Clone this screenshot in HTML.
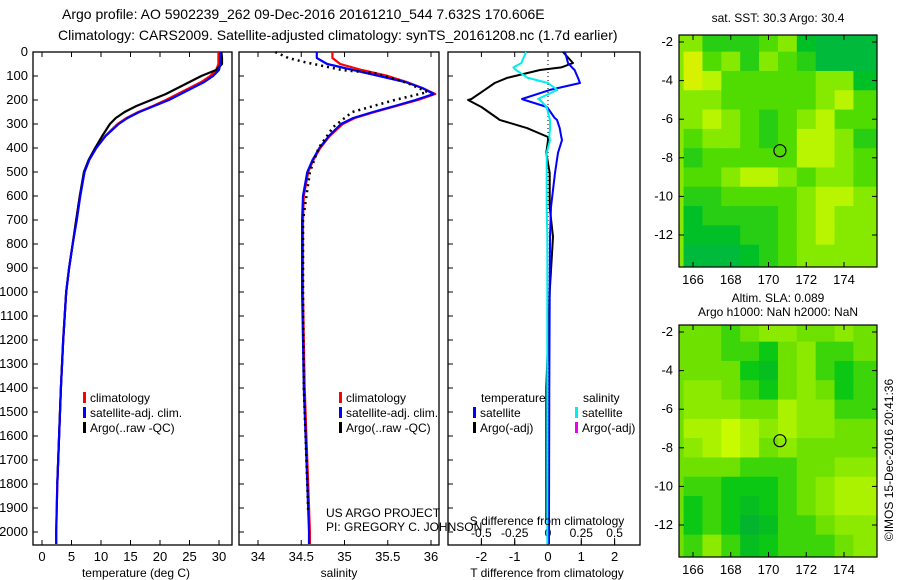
<!DOCTYPE html>
<html><head><meta charset="utf-8"><style>
body{margin:0;background:#fff;}
svg{display:block;font-family:"Liberation Sans",sans-serif;}
</style></head><body>
<svg id="c" width="900" height="580" viewBox="0 0 900 580">
<text x="62" y="19" font-size="14">Argo profile: AO 5902239_262 09-Dec-2016 20161210_544 7.632S 170.606E</text>
<text x="58" y="40" font-size="14">Climatology: CARS2009. Satellite-adjusted climatology: synTS_20161208.nc (1.7d earlier)</text>
<text x="778" y="22" font-size="12" text-anchor="middle">sat. SST: 30.3 Argo: 30.4</text>
<text x="778" y="302" font-size="12" text-anchor="middle">Altim. SLA: 0.089</text>
<text x="778" y="316" font-size="12" text-anchor="middle">Argo h1000: NaN h2000: NaN</text>
<text transform="translate(893,460) rotate(-90)" font-size="12" text-anchor="middle">©IMOS 15-Dec-2016 20:41:36</text>
<text x="326" y="517" font-size="12">US ARGO PROJECT</text>
<text x="326" y="531" font-size="12">PI: GREGORY C. JOHNSON</text>
</svg>
<script>
const depths=[0,25,50,75,100,125,150,175,200,225,250,275,300,350,400,450,500,600,700,800,900,1000,1200,1400,1600,1800,2000,2050];
const tempClim=[29.9,29.9,29.9,29.5,28.5,27,25,23,21,18.8,16.3,14.3,12.8,10.7,9.2,8,7.2,6.4,5.8,5.2,4.6,4.1,3.6,3.2,2.9,2.6,2.4,2.4];
const tempSat=[30.2,30.2,30.2,30,29,27.5,25.5,23.5,21.5,19,16.5,14.5,13,10.8,9.2,8,7.2,6.5,5.9,5.2,4.6,4.1,3.6,3.2,2.9,2.6,2.4,2.4];
const tempArgo=[30.4,30.5,30.5,29.5,27,25,23,21,18.5,16,14,12.5,11.5,10.2,9,7.9,7.1,6.4,5.8,5.2,4.6,4.1,3.6,3.2,2.9,2.6,2.4,2.4];
const salClim=[34.86,34.86,34.95,35.2,35.5,35.72,35.9,36.05,35.85,35.6,35.35,35.12,34.98,34.83,34.72,34.64,34.58,34.53,34.52,34.52,34.52,34.52,34.53,34.54,34.56,34.58,34.6,34.6];
const salSat=[34.68,34.68,34.8,35.1,35.4,35.7,35.9,36.03,35.82,35.58,35.33,35.1,34.96,34.82,34.71,34.63,34.57,34.52,34.51,34.51,34.51,34.51,34.52,34.53,34.55,34.57,34.59,34.59];
const salArgoDepth=[0,25,42,75,88,129,167,200,250,312,400,500,700,1000,1400,1800,1920];
const salArgo=[34.2,34.35,34.54,34.97,35.35,35.73,35.96,35.58,35.09,34.87,34.7,34.6,34.52,34.52,34.53,34.57,34.58];
const diffDepth=[0,46,64,75,108,129,158,196,200,229,275,283,317,354,367,420,504,646,770,1000,1400,1950,2050];
const dTArgo=[0.45,0.75,0.4,-0.24,-1.23,-1.6,-1.9,-2.3,-2.4,-2.0,-1.53,-1.45,-0.63,0,0,-0.05,0.05,0.05,0.15,0.05,-0.05,-0.05,-0.05];
const dTSat=[0.51,0.6,0.72,0.8,0.9,0.96,0.06,-0.78,-0.7,-0.03,0.2,0.27,0.35,0.4,0.42,0.3,0.21,0.09,0.06,0.05,0.04,0.03,0.03];
const dSSat=[-0.165,-0.2,-0.26,-0.24,-0.15,0,0.07,-0.075,-0.06,-0.01,0.01,0.015,0.015,0.01,0.015,-0.01,-0.01,-0.01,-0.005,-0.005,-0.005,-0.005,-0.005];
const depthTicks=[0,100,200,300,400,500,600,700,800,900,1000,1100,1200,1300,1400,1500,1600,1700,1800,1900,2000];
const tempTicks=[0,5,10,15,20,25,30];
const salTicks=[34,34.5,35,35.5,36];
const salTickLabels=["34","34.5","35","35.5","36"];
const dTTicks=[-2,-1,0,1,2];
const dSTicks=[-0.5,-0.25,0,0.25,0.5];
const dSTickLabels=["-0.5","-0.25","0","0.25","0.5"];
const mapLons=[166,167,168,169,170,171,172,173,174,175];
const mapLats=[-2,-3,-4,-5,-6,-7,-8,-9,-10,-11,-12,-13];
const sstGrid=[
[.6,.4,.4,.4,.5,.6,.3,.2,.2,.2],[.8,.5,.6,.4,.6,.5,.4,.2,.2,.2],[.8,.7,.5,.5,.5,.5,.5,.6,.6,.3],
[.6,.6,.5,.5,.5,.5,.5,.6,.7,.5],[.6,.7,.6,.5,.4,.5,.6,.7,.5,.5],[.5,.6,.6,.5,.4,.5,.7,.7,.6,.4],
[.4,.5,.5,.5,.5,.5,.7,.7,.6,.5],[.5,.5,.6,.7,.7,.6,.5,.6,.6,.5],[.4,.4,.5,.5,.5,.5,.6,.7,.7,.6],
[.3,.4,.4,.4,.4,.5,.6,.7,.6,.6],[.3,.3,.3,.4,.4,.5,.6,.7,.6,.6],[.2,.2,.2,.3,.4,.5,.6,.6,.6,.6]];
const slaGrid=[
[.5,.5,.4,.5,.6,.6,.5,.5,.6,.5],[.5,.5,.4,.4,.3,.5,.6,.4,.4,.5],[.5,.5,.5,.3,.2,.5,.6,.4,.3,.4],
[.6,.6,.5,.4,.3,.5,.6,.5,.3,.4],[.6,.6,.6,.5,.5,.7,.6,.6,.4,.4],[.7,.7,.8,.7,.6,.7,.6,.6,.5,.5],
[.6,.7,.8,.7,.5,.6,.5,.5,.5,.5],[.5,.5,.5,.4,.4,.4,.5,.5,.6,.6],[.4,.4,.3,.3,.3,.4,.5,.6,.7,.7],
[.3,.4,.3,.2,.3,.4,.5,.6,.7,.7],[.3,.4,.3,.1,.2,.4,.4,.5,.6,.6],[.4,.6,.4,.2,.3,.4,.4,.4,.5,.6]];
const argoLon=170.606, argoLat=-7.632;

const svg=document.getElementById('c');
const NS='http://www.w3.org/2000/svg';
function mk(tag,attrs,parent){const e=document.createElementNS(NS,tag);for(const k in attrs)e.setAttribute(k,attrs[k]);(parent||svg).appendChild(e);return e;}
const y=d=>52+0.24*d;
const xT=v=>42+v*5.9;
const xS=v=>258+(v-34)*86.5;
const xDT=v=>548+v*33.3;
const xDS=v=>548+v*133.2;

function frame(l,r,name){const e=mk('rect',{x:l,y:52,width:r-l,height:493,fill:'none',stroke:'#000','stroke-width':1.3});


for(const d of depthTicks){mk('line',{x1:l,x2:l+5,y1:y(d),y2:y(d),stroke:'#000'});}}
function xticks(vals,fx,labels,ly,name){vals.forEach((v,i)=>{const X=fx(v);mk('line',{x1:X,x2:X,y1:545,y2:540,stroke:'#000'});mk('line',{x1:X,x2:X,y1:52,y2:57,stroke:'#000'});
const t=mk('text',{x:X,y:ly,'font-size':13,'text-anchor':'middle'});t.textContent=labels[i];

});}
function line(xs,ds,fx,color,w,name,dash){const p=xs.map((v,i)=>fx(v).toFixed(1)+','+y(ds[i]).toFixed(1)).join(' ');
const e=mk('polyline',{points:p,fill:'none',stroke:color,'stroke-width':w,'stroke-linejoin':'round'});if(dash)e.setAttribute('stroke-dasharray',dash);

}
function txt(x,yy,s,name,anchor,size){const t=mk('text',{x:x,y:yy,'font-size':size||12,'text-anchor':anchor||'start'});t.textContent=s;

return t;}
function legend(x,yy,color,s,name){mk('rect',{x:x,y:yy-10,width:3,height:11,fill:color});txt(x+7,yy,s,name);}

// panel 1
frame(33,232,'temperature-panel');
depthTicks.forEach(d=>txt(28,y(d)+4,String(d),'depth-tick-label','end',13));
xticks(tempTicks,xT,tempTicks.map(String),561,'temperature-tick-label');
line(tempClim,depths,xT,'#f00',2.2,'temperature-climatology-line');
line(tempArgo.slice(0,26),depths.slice(0,26),xT,'#000',2.2,'temperature-argo-line');
line(tempSat,depths,xT,'#00f',2.2,'temperature-satellite-line');
txt(136,577,'temperature (deg C)','temperature-axis-title','middle');
legend(83,402,'#f00','climatology','legend-climatology');
legend(83,417,'#00f','satellite-adj. clim.','legend-satellite');
legend(83,432,'#000','Argo(..raw -QC)','legend-argo');

// panel 2
frame(239,439,'salinity-panel');
xticks(salTicks,xS,salTickLabels,561,'salinity-tick-label');
line(salClim,depths,xS,'#f00',2.2,'salinity-climatology-line');
line(salSat,depths,xS,'#00f',2.2,'salinity-satellite-line');
line(salArgo,salArgoDepth,xS,'#000',2.5,'salinity-argo-line','2,4');
txt(339,577,'salinity','salinity-axis-title','middle');
legend(339,402,'#f00','climatology','legend-climatology-2');
legend(339,417,'#00f','satellite-adj. clim.','legend-satellite-2');
legend(339,432,'#000','Argo(..raw -QC)','legend-argo-2');

// panel 3
frame(448,640,'difference-panel');
xticks(dTTicks,xDT,dTTicks.map(String),561,'t-difference-tick-label');
dSTicks.forEach((v,i)=>{const X=xDS(v);mk('line',{x1:X,x2:X,y1:545,y2:538,stroke:'#000'});txt(X,537,dSTickLabels[i],'s-difference-tick-label','middle');});
mk('line',{x1:xDT(0),x2:xDT(0),y1:52,y2:545,stroke:'#000','stroke-dasharray':'1,3'});
line(dTArgo.slice(0,22),diffDepth.slice(0,22),xDT,'#000',2,'t-difference-argo-line');
line(dTSat,diffDepth,xDT,'#00f',2,'t-difference-satellite-line');
line(dSSat,diffDepth,xDS,'#0ee',2,'s-difference-satellite-line');
txt(547,525,'S difference from climatology','s-difference-axis-title','middle');
txt(547,577,'T difference from climatology','t-difference-axis-title','middle');
txt(481,402,'temperature','legend-temperature-heading');
txt(583,402,'salinity','legend-salinity-heading');
legend(473,417,'#00f','satellite','legend-t-satellite');
legend(473,432,'#000','Argo(-adj)','legend-t-argo');
legend(575,417,'#0ee','satellite','legend-s-satellite');
legend(575,432,'#e0e','Argo(-adj)','legend-s-argo');

// maps
const lonX=l=>693+(l-166)*18.875;
function lerp(a,b,t){return a.map((v,i)=>Math.round(v+(b[i]-v)*t));}
function cmap(v,stops){for(let i=1;i<stops.length;i++){if(v<=stops[i][0]){const t=(v-stops[i-1][0])/(stops[i][0]-stops[i-1][0]);const c=lerp(stops[i-1][1],stops[i][1],t);return `rgb(${c})`;}}return `rgb(${stops[stops.length-1][1]})`;}
const sstStops=[[0,[0,176,96]],[0.3,[0,192,40]],[0.5,[80,220,0]],[0.7,[185,245,0]],[0.85,[230,240,0]],[1,[255,176,0]]];
const slaStops=[[0,[0,170,60]],[0.3,[10,200,20]],[0.5,[110,225,0]],[0.8,[200,250,0]],[1,[230,250,0]]];
function map(off,grid,stops,name){
  const latY=la=>42+off+(-2-la)*19.3;
  const g=mk('g',{});
  
  
  mk('rect',{x:679,y:35+off,width:198,height:232,fill:cmap(grid[0][0],stops)},g);
  grid.forEach((row,r)=>row.forEach((v,c)=>{
    const x0=Math.max(679,lonX(mapLons[c]-0.5)), x1=Math.min(877,lonX(mapLons[c]+0.5)+ (c==9?20:0));
    const y0=Math.max(35+off,latY(mapLats[r]+0.5)-(r==0?10:0)), y1=Math.min(267+off,latY(mapLats[r]-0.5)+(r==11?20:0));
    mk('rect',{x:x0,y:y0,width:x1-x0+0.5,height:y1-y0+0.5,fill:cmap(v,stops)},g);}));
  mk('rect',{x:679,y:35+off,width:198,height:232,fill:'none',stroke:'#000','stroke-width':1.2});
  for(const la of [-2,-4,-6,-8,-10,-12]){mk('line',{x1:679,x2:684,y1:latY(la),y2:latY(la),stroke:'#000'});mk('line',{x1:872,x2:877,y1:latY(la),y2:latY(la),stroke:'#000'});txt(673,latY(la)+4,String(la),'map-lat-tick-label','end',13);}
  for(const lo of [166,168,170,172,174]){mk('line',{x1:lonX(lo),x2:lonX(lo),y1:35+off,y2:40+off,stroke:'#000'});mk('line',{x1:lonX(lo),x2:lonX(lo),y1:262+off,y2:267+off,stroke:'#000'});txt(lonX(lo),284+off,String(lo),'map-lon-tick-label','middle',13);}
  const c=mk('circle',{cx:lonX(argoLon),cy:latY(argoLat),r:6,fill:'none',stroke:'#000','stroke-width':1.2});
  
  
}
map(0,sstGrid,sstStops,'sst-map');
map(290,slaGrid,slaStops,'sla-map');
</script>
</body></html>
